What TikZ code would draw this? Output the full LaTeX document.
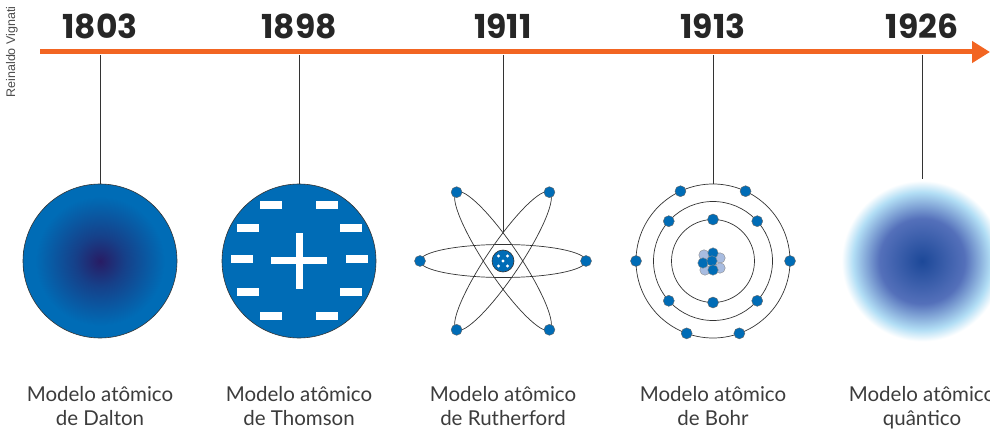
\documentclass[tikz,border=0pt]{standalone}
\usepackage{fontspec}
\setmainfont{Lato}
\setsansfont{Poppins}
\newfontfamily\creditfont{Liberation Sans}
\usetikzlibrary{positioning, arrows.meta}

\definecolor{axisorange}{RGB}{242,101,34}
\definecolor{atomblue}{RGB}{0,108,182}
\definecolor{deepnavy}{RGB}{40,28,100}
\definecolor{lightball}{RGB}{168,188,224}
\definecolor{qdeep}{RGB}{28,72,152}
\definecolor{qmid}{RGB}{84,112,186}
\definecolor{qsky}{RGB}{178,222,245}
\definecolor{inkgray}{RGB}{60,60,60}

% the inner 50bp square is stretched over the path, so the rim sits at 25bp
\pgfdeclareradialshading{daltonball}{\pgfpointorigin}{color(0bp)=(deepnavy); color(8bp)=(deepnavy!55!atomblue); color(21bp)=(atomblue); color(25bp)=(atomblue); color(50bp)=(atomblue)}
\pgfdeclareradialshading{quantumcloud}{\pgfpointorigin}{color(0bp)=(qdeep); color(13bp)=(qmid); color(21bp)=(qsky); color(24.5bp)=(white); color(50bp)=(white)}

\begin{document}
\begin{tikzpicture}[
  x=1pt, y=-1pt,
  year/.style={font=\sffamily\bfseries\fontsize{33}{33}\selectfont, text=black!85},
  caption/.style={font=\fontsize{20.5}{23.5}\selectfont, text=inkgray, align=center, anchor=north},
  stem/.style={black!80, line width=0.8pt},
  orbit/.style={black!80, line width=0.7pt},
  electron/.style={circle, fill=atomblue, draw=black!60, line width=0.4pt, minimum size=11pt, inner sep=0pt},
  ball/.style={circle, draw=black!45, line width=0.4pt, minimum size=10.5pt, inner sep=0pt}
]
\useasboundingbox (0,0) rectangle (990,430);

% time axis
\draw[axisorange, line width=5pt, -{Triangle[length=18pt,width=21pt]}] (40,52) -- (990,52);
\node[rotate=90, font=\creditfont\fontsize{12.5}{12.5}\selectfont, text=black!70] (credit) at (12,52) {Reinaldo Vignati};

\foreach \x/\yr [count=\i] in {100/1803, 299/1898, 503/1911, 713/1913, 922/1926} {
  \node[year] (year\i) at (\x,26) {\yr};
  \coordinate (t\i) at (\x,55);
}

% Dalton
\node[circle, minimum size=154pt, inner sep=0pt, shade, shading=daltonball, draw=black!80, line width=0.6pt] (dalton) at (100,261) {};
\draw[stem] (t1) -- (dalton);

% Thomson
\node[circle, minimum size=154pt, inner sep=0pt, fill=atomblue, draw=black!80, line width=0.6pt] (thomson) at (299,261) {};
\draw[stem] (t2) -- (thomson);
\fill[white] (295.5,233) rectangle (302.5,289);
\fill[white] (271,257.5) rectangle (327,264.5);
\foreach \x/\y in {271/205, 327/205, 248/228, 351/228, 242/259, 357/259, 248/292, 351/292, 271/316, 327/316}
  \fill[white] (\x-11,\y-3.8) rectangle (\x+11,\y+3.8);

% Rutherford
\coordinate (rtop) at (503,232);
\draw[stem] (t3) -- (rtop);
\coordinate (rcenter) at (503,261);
\draw[orbit] (rcenter) ellipse[x radius=83pt, y radius=16.5pt];
\draw[orbit, rotate around={56:(rcenter)}] (rcenter) ellipse[x radius=83pt, y radius=16.5pt];
\draw[orbit, rotate around={-56:(rcenter)}] (rcenter) ellipse[x radius=83pt, y radius=16.5pt];
\draw[white, line width=2.5pt] (rcenter) circle[radius=12.6pt];
\node[circle, minimum size=22pt, inner sep=0pt, fill=atomblue, draw=black!80, line width=0.6pt] (rnuc) at (rcenter) {};
\foreach \dx/\dy in {-4.5/-5, 4.5/-5, 0/0, -4.5/5, 4.5/5}
  \fill[white] ([shift={(\dx,\dy)}]rnuc.center) circle[radius=1.6pt];
\foreach \a [count=\i] in {0, 180, 56, 236, -56, 124}
  \node[electron] (re\i) at ([shift={(\a:83)}]rcenter) {};

% Bohr
\node[circle, minimum size=154pt, inner sep=0pt, draw=black!80, line width=0.7pt] (bohr) at (713,261) {};
\draw[stem] (t4) -- (bohr);
\draw[orbit] (bohr.center) circle[radius=41.5pt];
\draw[orbit] (bohr.center) circle[radius=59.5pt];
\foreach \dx/\dy in {-9/-6, 7/-3, 7/7, -8/9}
  \node[ball, fill=lightball] at ([shift={(\dx,\dy)}]bohr.center) {};
\foreach \dx/\dy in {0/-8, -10/2, -1/0, 0/9}
  \node[ball, fill=atomblue] at ([shift={(\dx,\dy)}]bohr.center) {};
\foreach \a/\r [count=\i] in {-90/41.5, 90/41.5, -138/59.5, -42/59.5, 138/59.5, 42/59.5, -115/77, -65/77, 180/77, 0/77, 110/77, 70/77}
  \node[electron] (be\i) at ([shift={(\a:\r)}]bohr.center) {};

% quantum
\node[circle, minimum size=164pt, inner sep=0pt, shade, shading=quantumcloud] (cloud) at (922,261) {};
\draw[stem] (t5) -- (cloud);

% captions
\node[caption] (cap1) at (100,383) {Modelo atômico\\de Dalton};
\node[caption] (cap2) at (299,383) {Modelo atômico\\de Thomson};
\node[caption] (cap3) at (503,383) {Modelo atômico\\de Rutherford};
\node[caption] (cap4) at (713,383) {Modelo atômico\\de Bohr};
\node[caption] (cap5) at (922,383) {Modelo atômico\\quântico};
\end{tikzpicture}
\end{document}
